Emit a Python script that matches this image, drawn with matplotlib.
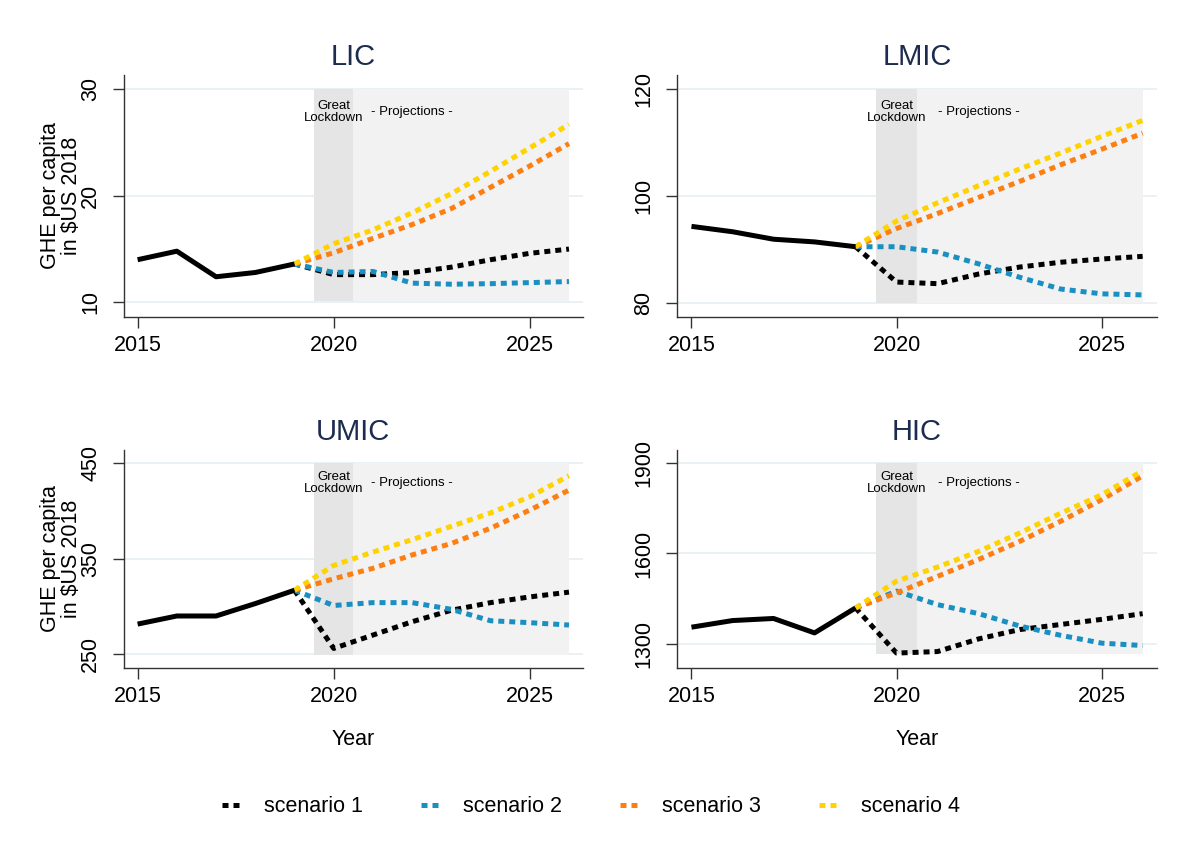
import numpy as np
import matplotlib
matplotlib.use("Agg")
import matplotlib.pyplot as plt
from matplotlib.lines import Line2D

plt.rcParams['font.family'] = ['Liberation Sans', 'DejaVu Sans']

# ---- data -------------------------------------------------------------
years_hist = [2015, 2016, 2017, 2018, 2019]
years_proj = [2019, 2020, 2021, 2022, 2023, 2024, 2025, 2026]

panels = ["LIC", "LMIC", "UMIC", "HIC"]

hist = {
    "LIC":  [14.0, 14.8, 12.4, 12.8, 13.6],
    "LMIC": [94.3, 93.3, 91.9, 91.4, 90.5],
    "UMIC": [281.5, 290, 290, 303, 317],
    "HIC":  [1355, 1377, 1384, 1336, 1419],
}
scen1 = {
    "LIC":  [13.6, 12.6, 12.6, 12.8, 13.3, 14.0, 14.6, 15.0],
    "LMIC": [90.5, 83.9, 83.6, 85.4, 86.7, 87.6, 88.2, 88.7],
    "UMIC": [317, 256, 270, 284, 296, 304, 310, 315],
    "HIC":  [1419, 1269, 1274, 1316, 1347, 1364, 1381, 1400],
}
scen2 = {
    "LIC":  [13.6, 12.8, 12.9, 11.8, 11.7, 11.75, 11.85, 11.95],
    "LMIC": [90.5, 90.5, 89.5, 87.3, 84.8, 82.6, 81.7, 81.5],
    "UMIC": [317, 301, 304, 304, 297, 285, 283, 280.5],
    "HIC":  [1419, 1475, 1430, 1400, 1359, 1328, 1302, 1294],
}
scen3 = {
    "LIC":  [13.6, 14.65, 16.0, 17.3, 18.8, 20.8, 22.8, 24.9],
    "LMIC": [90.5, 93.9, 96.7, 99.7, 102.7, 105.8, 108.7, 111.7],
    "UMIC": [317, 329, 340, 354, 366, 382, 401, 422],
    "HIC":  [1419, 1469, 1524, 1580, 1640, 1707, 1779, 1858],
}
scen4 = {
    "LIC":  [13.6, 15.5, 16.8, 18.4, 20.2, 22.3, 24.5, 26.7],
    "LMIC": [90.5, 95.3, 98.7, 101.9, 105.0, 108.0, 111.1, 114.1],
    "UMIC": [317, 343, 357, 370, 384, 398, 415, 437],
    "HIC":  [1419, 1508, 1555, 1607, 1668, 1734, 1795, 1875],
}

yticks = {
    "LIC": [10, 20, 30],
    "LMIC": [80, 100, 120],
    "UMIC": [250, 350, 450],
    "HIC": [1300, 1600, 1900],
}
ylims = {
    "LIC": (8.65, 31.34),
    "LMIC": (77.43, 122.57),
    "UMIC": (236, 464),
    "HIC": (1221, 1944),
}
# shaded bands: lockdown / projection window
shade_lo = {"LIC": 10.15, "LMIC": 79.9, "UMIC": 249, "HIC": 1265}
shade_hi = {"LIC": 30, "LMIC": 120, "UMIC": 450, "HIC": 1900}
lockdown = (2019.5, 2020.5)
projection = (2020.5, 2026.0)

scen_labels = ["scenario 1", "scenario 2", "scenario 3", "scenario 4"]
scen_colors = ["#000000", "#1a8fc2", "#fd7f12", "#ffd200"]
title_color = "#1c2b4e"

# ---- figure -----------------------------------------------------------
fig = plt.figure(figsize=(11.9, 8.65), dpi=100)
W, H = 1190, 865
boxes = {
    "LIC":  (123.5, 75.0, 582.7, 316.7),
    "LMIC": (676.7, 75.0, 1157.0, 316.7),
    "UMIC": (123.5, 450.0, 582.7, 667.5),
    "HIC":  (676.7, 450.0, 1157.0, 667.5),
}

lw = 3.6
dots = (0, (1.2, 1.0))

for name in panels:
    x0, y0, x1, y1 = boxes[name]
    ax = fig.add_axes([x0 / W, 1 - y1 / H, (x1 - x0) / W, (y1 - y0) / H])

    ax.fill_between(lockdown, shade_lo[name], shade_hi[name],
                    color="#e5e5e5", lw=0, zorder=1)
    ax.fill_between(projection, shade_lo[name], shade_hi[name],
                    color="#f2f2f2", lw=0, zorder=1)

    for s, c in zip([scen1, scen2, scen3, scen4], scen_colors):
        ax.plot(years_proj, s[name], color=c, lw=lw, ls=dots,
                dash_capstyle="butt", zorder=3)
    ax.plot(years_hist, hist[name], color="black", lw=lw,
            solid_capstyle="butt", zorder=4)

    ax.text(2020.0, 0.848, "Great\nLockdown", transform=ax.get_xaxis_transform(),
            ha="center", va="center", fontsize=9.5, linespacing=1.0, zorder=5)
    ax.text(2022.0, 0.848, "- Projections -", transform=ax.get_xaxis_transform(),
            ha="center", va="center", fontsize=9.5, zorder=5)

    ax.set_xlim(2014.64, 2026.35)
    ax.set_ylim(*ylims[name])
    ax.set_xticks([2015, 2020, 2025])
    ax.set_yticks(yticks[name])
    ax.set_yticklabels([str(v) for v in yticks[name]], rotation=90, va="center")
    ax.tick_params(axis="both", labelsize=15.5, length=8, width=1.0,
                   color="#333333")
    ax.tick_params(axis="y", pad=8)
    ax.tick_params(axis="x", pad=5)

    ax.set_axisbelow(True)
    ax.yaxis.grid(True, color="#e8f0f3", lw=1.3, zorder=0)
    for sp in ["top", "right"]:
        ax.spines[sp].set_visible(False)
    for sp in ["left", "bottom"]:
        ax.spines[sp].set_color("#333333")
        ax.spines[sp].set_linewidth(1.0)

    ax.set_title(name, fontsize=21, color=title_color, pad=7.5)

    if name in ("LIC", "UMIC"):
        ax.text(-0.136, 0.5, "GHE per capita\nin $US 2018", transform=ax.transAxes,
                rotation=90, ha="center", va="center", fontsize=15.5,
                linespacing=1.0)
    if name in ("UMIC", "HIC"):
        ax.text(0.5, -0.333, "Year", transform=ax.transAxes,
                ha="center", va="center", fontsize=15.5)

handles = [Line2D([0], [0], color=c, lw=lw, ls=dots, dash_capstyle="butt")
           for c in scen_colors]
fig.legend(handles, scen_labels, loc="center", ncol=4,
           bbox_to_anchor=(0.497, 1 - 807 / H), frameon=False,
           fontsize=15.5, handlelength=0.8, handletextpad=1.15,
           columnspacing=2.7)

fig.savefig("out.png", dpi=100)
